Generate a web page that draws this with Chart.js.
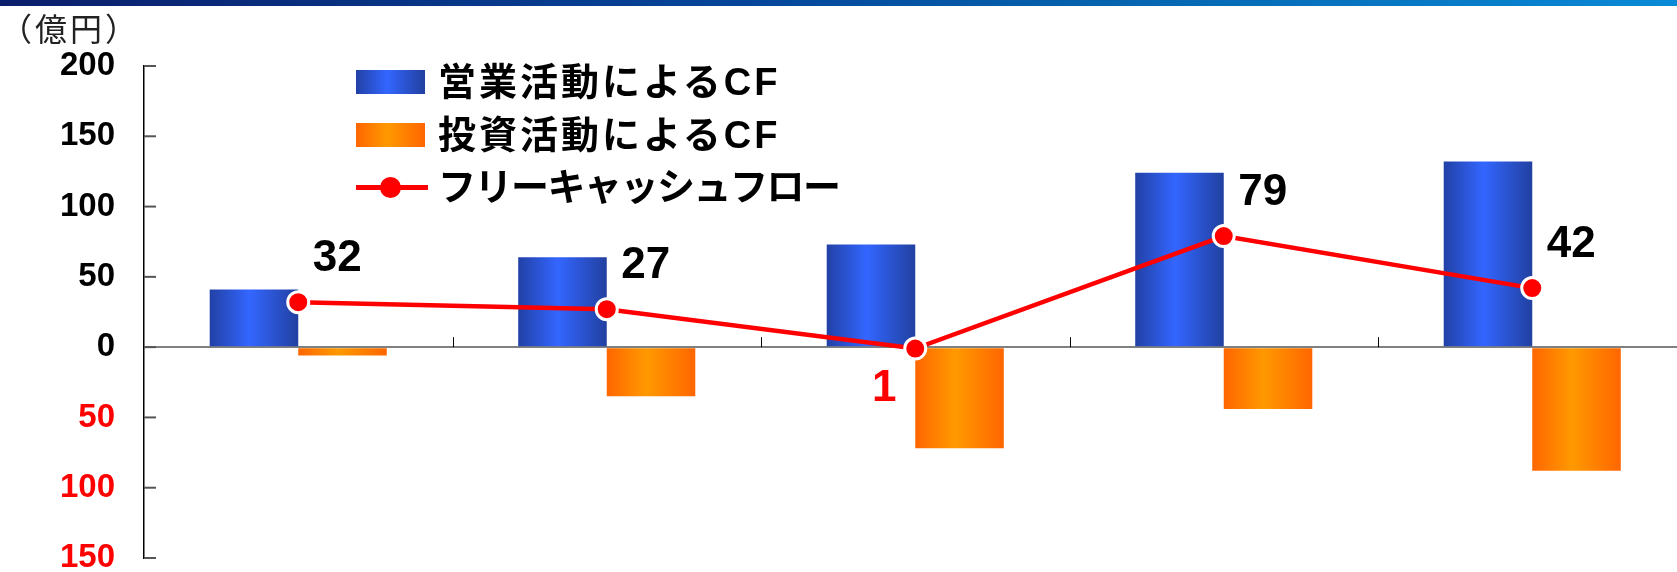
<!DOCTYPE html>
<html lang="ja">
<head>
    <meta charset="UTF-8">
    <title>キャッシュフロー推移</title>
    <script src="https://cdn.jsdelivr.net/npm/chart.js"></script>
    <style>
        html, body { margin: 0; padding: 0; background: #fff; overflow: hidden; }
        #wrap { position: relative; width: 1700px; height: 572px; }
        #topbar { position: absolute; left: 0; top: 0; width: 1677px; height: 6px;
            background: linear-gradient(to right, #0b1e6b 0%, #05469a 45%, #0562ad 65%, #0a8ad6 100%); z-index: 2; }
        #unit { position: absolute; left: 0; top: 11px; font: 32px/32px "Noto Sans CJK JP", sans-serif;
            letter-spacing: 3px; color: #222; z-index: 2; }
        #legend { position: absolute; left: 356px; top: 56px; z-index: 2; }
        .row { position: relative; height: 52.5px; }
        .sw { position: absolute; left: 0; top: 14px; width: 69px; height: 24px; }
        .lbl { position: absolute; left: 82px; top: 0; font: bold 38px/52px "Liberation Sans", "Noto Sans CJK JP", sans-serif;
            color: #000; white-space: nowrap; }
        .ln { position: absolute; left: 0; top: 24px; width: 72px; height: 5px; background: #ff0000; }
        .dot { position: absolute; left: 23.5px; top: 16px; width: 21px; height: 21px; border-radius: 50%; background: #ff0000; }
    </style>
</head>
<body>
<div id="wrap">
    <div id="topbar"></div>
    <div id="unit">（億円）</div>
    <div id="legend">
        <div class="row"><div class="sw" style="background: linear-gradient(to right, #2241a6, #3366ff 45%, #2140a0)"></div><div class="lbl" style="letter-spacing: 3px">営業活動によるCF</div></div>
        <div class="row"><div class="sw" style="background: linear-gradient(to right, #ff6600, #ff9900 45%, #ff6600)"></div><div class="lbl" style="letter-spacing: 3px">投資活動によるCF</div></div>
        <div class="row"><div class="ln"></div><div class="dot"></div><div class="lbl" style="letter-spacing: -1.5px">フリーキャッシュフロー</div></div>
    </div>
    <canvas id="cfChart" width="1700" height="572"></canvas>
</div>

<script>
    // values (億円)
    const categories = ['第1期', '第2期', '第3期', '第4期', '第5期'];
    const operatingCF = [41, 64, 73, 124, 132];
    const investingCF = [-6, -35, -72, -44, -88];
    const freeCF = [32, 27, -1, 79, 42];

    const CAT_PCT = 0.574;
    const numFont = '"Liberation Sans", Arial, sans-serif';

    // horizontal gradient across each bar
    function barGradient(ctx, side, edge, mid) {
        const chart = ctx.chart;
        const x = chart.scales.x;
        if (!x || ctx.dataIndex === undefined) return mid;
        const center = x.getPixelForValue(ctx.dataIndex);
        const w = x.width / categories.length * CAT_PCT / 2;
        if (!isFinite(center) || !isFinite(w) || w <= 0) return mid;
        const x0 = side < 0 ? center - w : center;
        const g = chart.ctx.createLinearGradient(x0, 0, x0 + w, 0);
        g.addColorStop(0, edge);
        g.addColorStop(0.45, mid);
        g.addColorStop(1, side < 0 ? '#2140a0' : edge);
        return g;
    }

    // inward tick marks on the y axis and category ticks on the zero line
    const axisTicks = {
        id: 'axisTicks',
        beforeDatasetsDraw(chart) {
            const c = chart.ctx, y = chart.scales.y, x = chart.scales.x;
            const left = chart.chartArea.left;
            c.save();
            c.strokeStyle = '#555';
            c.lineWidth = 2;
            y.ticks.forEach(t => {
                const py = y.getPixelForValue(t.value);
                c.beginPath(); c.moveTo(left, py); c.lineTo(left + 12, py); c.stroke();
            });
            const zero = y.getPixelForValue(0);
            c.strokeStyle = '#000';
            c.lineWidth = 1;
            for (let i = 1; i < categories.length; i++) {
                const px = Math.round((x.getPixelForValue(i - 1) + x.getPixelForValue(i)) / 2) + 0.5;
                c.beginPath(); c.moveTo(px, zero - 10); c.lineTo(px, zero); c.stroke();
            }
            c.restore();
        }
    };

    // free cash flow labels; negatives in red without sign
    const fcfLabels = {
        id: 'fcfLabels',
        afterDatasetsDraw(chart) {
            const c = chart.ctx;
            const meta = chart.getDatasetMeta(2);
            c.save();
            c.font = 'bold 44px ' + numFont;
            c.textAlign = 'center';
            c.textBaseline = 'middle';
            meta.data.forEach((pt, i) => {
                const v = freeCF[i];
                c.fillStyle = v < 0 ? '#ff0000' : '#000';
                const dx = v < 0 ? -31 : 39, dy = v < 0 ? 40 : -43;
                c.fillText(String(Math.abs(v)), pt.x + dx, pt.y + dy);
            });
            c.restore();
        }
    };

    new Chart(document.getElementById('cfChart').getContext('2d'), {
        data: {
            labels: categories,
            datasets: [
                {
                    type: 'bar', label: '営業活動によるCF', data: operatingCF, order: 1,
                    backgroundColor: ctx => barGradient(ctx, -1, '#2241a6', '#3366ff'),
                    categoryPercentage: CAT_PCT, barPercentage: 1
                },
                {
                    type: 'bar', label: '投資活動によるCF', data: investingCF, order: 1,
                    backgroundColor: ctx => barGradient(ctx, 1, '#ff6600', '#ff9900'),
                    categoryPercentage: CAT_PCT, barPercentage: 1
                },
                {
                    type: 'line', label: 'フリーキャッシュフロー', data: freeCF, order: 0,
                    borderColor: '#ff0000', borderWidth: 4.5,
                    pointRadius: 10.5, pointBackgroundColor: '#ff0000',
                    pointBorderColor: '#fff', pointBorderWidth: 3, tension: 0
                }
            ]
        },
        options: {
            responsive: false,
            animation: false,
            layout: { padding: { left: 0, right: 4.5, top: 66, bottom: 14 } },
            plugins: { legend: { display: false }, tooltip: { enabled: false } },
            scales: {
                x: { type: 'category', display: false, offset: true },
                y: {
                    min: -150, max: 200,
                    ticks: {
                        stepSize: 50, padding: 29,
                        font: { family: numFont, size: 33, weight: 'bold', lineHeight: 0.8 },
                        color: c => c.tick.value < 0 ? '#ff0000' : '#000',
                        callback: v => Math.abs(v)
                    },
                    grid: {
                        drawTicks: false, lineWidth: 2,
                        color: c => c.tick && c.tick.value === 0 ? '#808080' : 'rgba(0,0,0,0)'
                    },
                    border: { display: true, color: '#000', width: 1.5 },
                    afterFit: s => { s.width = 144; s.paddingTop = 0; s.paddingBottom = 0; }
                }
            }
        },
        plugins: [axisTicks, fcfLabels]
    });
</script>
</body>
</html>
